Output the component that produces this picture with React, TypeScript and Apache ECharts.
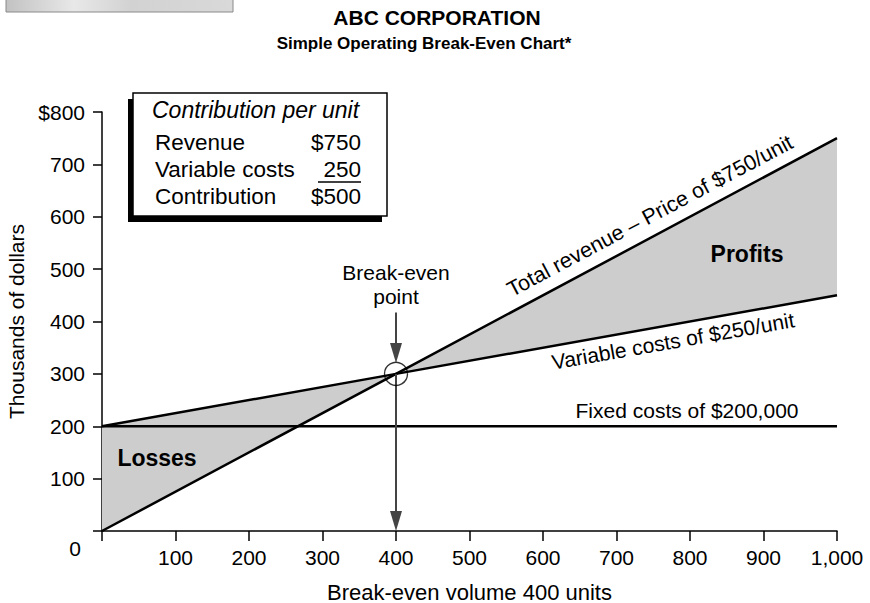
import React, { useEffect, useRef } from 'react';
import * as echarts from 'echarts';

// ---- data ----
const units = [0, 400, 1000];
const revenue = [0, 300, 750];
const totalCosts = [200, 300, 450];
const fixedCosts = [200, 200, 200];
const breakEven = [400, 300];
const arrowTopStart = 417;
const arrowTopEnd = 340;
const arrowBottomEnd = 19;
const xLabels: Record<number, string> = { 0: '', 1000: '1,000' };
const yLabels: Record<number, string> = { 0: '', 800: '$800' };
const contribution = [
  ['Revenue', '$750'],
  ['Variable costs', '250'],
  ['Contribution', '$500'],
];

const FONT = '"Liberation Sans", Arial, Helvetica, sans-serif';

export default function App() {
  const ref = useRef<HTMLDivElement>(null);
  useEffect(() => {
    document.body.style.margin = '0';
    const chart = echarts.init(ref.current!, null, { renderer: 'svg' });
    const lineSeries = (name: string, vals: number[]) => ({
      name,
      type: 'line',
      data: units.map((u, i) => [u, vals[i]]),
      symbol: 'none',
      showSymbol: false,
      lineStyle: { color: '#000', width: 2.5 },
      z: 3,
      silent: true,
    });
    const txt = (text: string, x: number, y: number, extra: any = {}, rot = 0) => ({
      type: 'text',
      x,
      y,
      rotation: rot,
      silent: true,
      style: {
        text,
        fontFamily: FONT,
        fontSize: 21,
        fill: '#000',
        align: 'center',
        verticalAlign: 'middle',
        ...extra,
      },
      z: 20,
    });
    const revAngle = Math.atan(390 / 735);
    const costAngle = Math.atan(130 / 735);
    const option: any = {
      animation: false,
      grid: { left: 102, right: 33, top: 112, bottom: 72, containLabel: false, outerBoundsMode: 'none' },
      xAxis: {
        type: 'value',
        min: 0,
        max: 1000,
        interval: 100,
        name: 'Break-even volume 400 units',
        nameLocation: 'middle',
        nameGap: 50,
        nameTextStyle: { fontFamily: FONT, fontSize: 22, color: '#000' },
        axisLine: { lineStyle: { color: '#000', width: 1.5 } },
        axisTick: { length: 10, lineStyle: { color: '#000', width: 1.5 } },
        axisLabel: {
          fontFamily: FONT,
          fontSize: 21,
          color: '#000',
          margin: 16,
          formatter: (v: number) => (v in xLabels ? xLabels[v] : String(v)),
        },
        splitLine: { show: false },
      },
      yAxis: {
        type: 'value',
        min: 0,
        max: 800,
        interval: 100,
        name: 'Thousands of dollars',
        nameLocation: 'middle',
        nameGap: 72,
        nameTextStyle: { fontFamily: FONT, fontSize: 21, color: '#000' },
        axisLine: { show: true, lineStyle: { color: '#000', width: 1.5 } },
        axisTick: { show: true, length: 9, lineStyle: { color: '#000', width: 1.5 } },
        axisLabel: {
          fontFamily: FONT,
          fontSize: 21,
          color: '#000',
          margin: 17,
          formatter: (v: number) => (v in yLabels ? yLabels[v] : String(v)),
        },
        splitLine: { show: false },
      },
      series: [
        {
          type: 'custom',
          silent: true,
          z: 1,
          data: units.slice(0, -1).map((u, i) => [u, revenue[i]]),
          renderItem: (params: any, api: any) => {
            const i = params.dataIndex;
            const pts = [
              api.coord([units[i], revenue[i]]),
              api.coord([units[i + 1], revenue[i + 1]]),
              api.coord([units[i + 1], totalCosts[i + 1]]),
              api.coord([units[i], totalCosts[i]]),
            ];
            return { type: 'polygon', shape: { points: pts }, style: { fill: '#cdcdcd' } };
          },
        },
        lineSeries('Total revenue', revenue),
        lineSeries('Total costs', totalCosts),
        lineSeries('Fixed costs', fixedCosts),
        {
          type: 'scatter',
          silent: true,
          data: [breakEven],
          symbol: 'circle',
          symbolSize: 23,
          itemStyle: { color: 'rgba(0,0,0,0)', borderColor: '#000', borderWidth: 1.3 },
          z: 6,
          markLine: {
            silent: true,
            symbol: ['none', 'triangle'],
            symbolSize: [12, 20],
            label: { show: false },
            lineStyle: { color: '#444', width: 2, type: 'solid' },
            data: [
              [{ coord: [breakEven[0], arrowTopStart] }, { coord: [breakEven[0], arrowTopEnd] }],
              [{ coord: [breakEven[0], breakEven[1]] }, { coord: [breakEven[0], arrowBottomEnd] }],
            ],
          },
        },
      ],
      graphic: [
        {
          type: 'rect',
          silent: true,
          shape: { x: 6, y: -2, width: 227, height: 14 },
          style: {
            fill: new echarts.graphic.LinearGradient(0, 0, 1, 0, [
              { offset: 0, color: '#c2c2c2' },
              { offset: 0.3, color: '#e8e8e8' },
              { offset: 0.55, color: '#d2d2d2' },
              { offset: 1, color: '#d9d9d9' },
            ]),
            stroke: '#8a8a8a',
            lineWidth: 1,
          },
        },
        txt('ABC CORPORATION', 437, 17, { fontWeight: 'bold', fontSize: 21 }),
        txt('Simple Operating Break-Even Chart*', 424, 43, { fontWeight: 'bold', fontSize: 17 }),
        // contribution box
        {
          type: 'rect',
          silent: true,
          shape: { x: 128, y: 99, width: 254, height: 123 },
          style: { fill: '#000' },
          z: 15,
        },
        {
          type: 'rect',
          silent: true,
          shape: { x: 133, y: 93, width: 254, height: 123 },
          style: { fill: '#fff', stroke: '#000', lineWidth: 1.5 },
          z: 16,
        },
        txt('Contribution per unit', 152, 110, { align: 'left', fontStyle: 'italic', fontSize: 23 }),
        ...contribution.flatMap((row, i) => [
          txt(row[0], 155, 142 + i * 27, { align: 'left', fontSize: 22.5 }),
          txt(row[1], 361, 142 + i * 27, { align: 'right', fontSize: 22.5 }),
        ]),
        {
          type: 'line',
          silent: true,
          shape: { x1: 318, y1: 182, x2: 361, y2: 182 },
          style: { stroke: '#000', lineWidth: 1.5 },
          z: 20,
        },
        // y zero label
        txt('0', 75, 548),
        // annotations
        txt('Break-even', 396, 272),
        txt('point', 396, 296),
        txt('Profits', 747, 254, { fontWeight: 'bold', fontSize: 23 }),
        txt('Losses', 157, 458, { fontWeight: 'bold', fontSize: 23 }),
        txt('Fixed costs of $200,000', 687, 410),
        txt('Total revenue \u2013 Price of $750/unit', 650, 216, { fontSize: 21.5 }, revAngle),
        txt('Variable costs of $250/unit', 673, 341, { fontSize: 21 }, costAngle),
      ],
    };
    chart.setOption(option);
    return () => chart.dispose();
  }, []);
  return <div ref={ref} style={{ width: 870, height: 603 }} />;
}
